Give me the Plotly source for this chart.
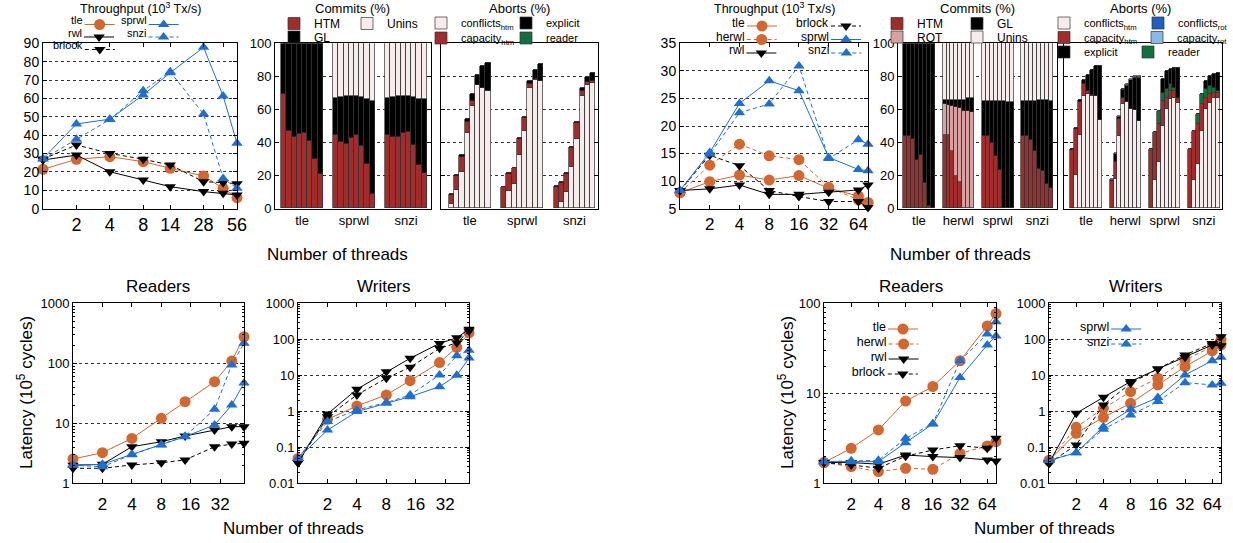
import math
import plotly.graph_objects as go

W, H = 1233, 543
FONT = "Liberation Sans, Arial, sans-serif"

# ---------------- data ----------------
THREADS_L = [1, 2, 4, 8, 14, 28, 42, 56]
THREADS_R = [1, 2, 4, 8, 16, 32, 64, 80]

# throughput (10^3 Tx/s) - left machine
tl_thr_tle = [21.4, 26.9, 28.3, 25.6, 22.0, 17.8, 11.1, 6.0]
tl_thr_rwl = [26.5, 29.2, 20.1, 15.6, 12.0, 9.3, 8.4, 7.5]
tl_thr_brlock = [27.0, 34.7, 30.1, 26.9, 23.8, 14.7, 14.2, 13.6]
tl_thr_sprwl = [27.2, 46.1, 48.7, 61.9, 74.0, 87.8, 61.3, 35.6]
tl_thr_snzi = [27.0, 37.8, 48.5, 64.2, 74.5, 51.5, 16.5, 11.1]

# throughput - right machine
tr_thr_tle = [7.9, 9.9, 11.1, 10.2, 11.0, 8.7, 7.3, 6.1]
tr_thr_herwl = [7.9, 12.9, 16.7, 14.6, 13.9, 8.9, 6.6, 6.1]
tr_thr_rwl = [8.3, 8.6, 9.3, 7.6, 7.6, 8.0, 8.4, 9.3]
tr_thr_brlock = [8.3, 14.7, 12.8, 8.3, 7.2, 6.3, 6.3, 5.2]
tr_thr_sprwl = [8.3, 15.2, 24.1, 28.2, 26.4, 14.3, 12.1, 11.9]
tr_thr_snzi = [8.3, 14.9, 22.4, 24.0, 30.9, 14.1, 17.5, 16.7]

# latency (10^5 cycles) - left machine
bl_rd_tle = [2.54, 3.24, 5.6, 12.1, 22.9, 49.3, 109, 277]
bl_rd_rwl = [2.0, 2.07, 4.07, 4.93, 6.15, 7.73, 8.78, 8.8]
bl_rd_brlock = [1.78, 1.78, 2.02, 2.2, 2.45, 4.07, 4.5, 4.64]
bl_rd_sprwl = [2.02, 2.07, 3.04, 4.35, 5.98, 9.4, 20.2, 47]
bl_rd_snzi = [2.0, 1.89, 3.0, 4.4, 6.1, 17.1, 94, 215]

bl_wr_tle = [0.049, 0.6, 1.4, 2.85, 7.1, 22.5, 60, 150]
bl_wr_rwl = [0.037, 0.84, 4.1, 12.6, 29.6, 77, 110, 190]
bl_wr_brlock = [0.037, 0.71, 2.85, 8.3, 16.7, 56, 80, 170]
bl_wr_sprwl = [0.049, 0.3, 0.98, 1.67, 2.55, 4.84, 10, 30]
bl_wr_snzi = [0.049, 0.52, 1.09, 1.75, 2.85, 10.2, 35, 50]

# latency - right machine
br_rd_tle = [1.70, 2.45, 3.92, 8.2, 11.9, 23, 56, 77]
br_rd_herwl = [1.7, 1.53, 1.35, 1.47, 1.43, 2.15, 2.6, 2.9]
br_rd_rwl = [1.7, 1.7, 1.63, 2.06, 1.98, 1.93, 1.82, 1.77]
br_rd_brlock = [1.7, 1.6, 1.47, 2.0, 2.34, 2.62, 2.45, 3.16]
br_rd_sprwl = [1.74, 1.74, 1.74, 2.83, 4.56, 15, 34.4, 43.3]
br_rd_snzi = [1.74, 1.78, 1.8, 3.16, 4.6, 23, 45.6, 62.5]

br_wr_tle = [0.043, 0.245, 0.68, 1.67, 5.4, 17.4, 47.4, 69.7]
br_wr_herwl = [0.043, 0.36, 1.21, 3.5, 8.3, 26.7, 62.5, 100]
br_wr_rwl = [0.036, 0.88, 2.45, 6.7, 15, 31.6, 70, 66]
br_wr_brlock = [0.036, 0.116, 1.5, 6.0, 15, 36.7, 77, 118]
br_wr_sprwl = [0.043, 0.071, 0.375, 1.14, 2.4, 10.2, 25.5, 31.6]
br_wr_snzi = [0.043, 0.071, 0.316, 0.79, 1.86, 6.25, 5.4, 6.0]

# commits (%) - left machine, 8 thread counts per group
TL_GROUPS = ["tle", "sprwl", "snzi"]
tl_com_htm = {"tle": [69, 47, 43, 45, 45.5, 41, 30, 20.5],
              "sprwl": [44.5, 40, 39, 42.5, 44.5, 37.5, 27, 9],
              "snzi": [44.5, 43, 43, 45.5, 46, 38.5, 26, 21.5]}
tl_com_gl = {"tle": [31, 53, 57, 55, 54.5, 59, 70, 79.5],
             "sprwl": [22.5, 27.5, 29, 25.5, 23.5, 30, 39, 56],
             "snzi": [22.5, 24.5, 25, 22.5, 22, 29, 40, 44.5]}
tl_com_unins = {"tle": [0, 0, 0, 0, 0, 0, 0, 0],
                "sprwl": [33, 32.5, 32, 32, 32, 32.5, 34, 35],
                "snzi": [33, 32.5, 32, 32, 32, 32.5, 34, 34]}

# aborts (%) - left machine
tl_ab_conf = {"tle": [2.4, 11.1, 21.8, 45.7, 61.8, 74.7, 72.7, 70.9],
              "sprwl": [0, 10.5, 14.7, 32.3, 47.1, 72.5, 77.4, 77],
              "snzi": [0, 3.6, 9.7, 24.8, 42, 67.7, 74.7, 76]}
tl_ab_cap = {"tle": [5.7, 8.5, 9.1, 6.4, 3, 0, 0, 0],
             "sprwl": [13.1, 10.3, 9.5, 9.9, 7.4, 2.9, 1, 0],
             "snzi": [13.1, 11.8, 11.1, 11.8, 9.5, 3.2, 1.7, 1]}
tl_ab_expl = {"tle": [0.6, 0.4, 1.4, 2, 4.5, 6.1, 13.2, 17.2],
              "sprwl": [0, 0.4, 0.4, 0.6, 0.7, 1.4, 5.4, 10.1],
              "snzi": [0.3, 0.4, 0.4, 0.4, 0.6, 2, 3, 4.8]}
tl_ab_reader = {"tle": [0] * 8, "sprwl": [0] * 8, "snzi": [0] * 8}

# commits (%) - right machine
TR_GROUPS = ["tle", "herwl", "sprwl", "snzi"]
tr_com_htm = {"tle": [44, 44, 42, 29, 32.5, 15.5, 1.5, 0],
              "herwl": [44.5, 44.5, 35, 19.5, 15.8, 0.5, 0, 0],
              "sprwl": [44, 43.5, 39.5, 31.5, 23.5, 0, 0, 0],
              "snzi": [44, 43.5, 41.5, 34.5, 24, 22.5, 15, 12.5]}
tr_com_rot = {"tle": [0] * 8,
              "herwl": [18.5, 18, 27, 42, 44.8, 58.5, 59, 58],
              "sprwl": [0] * 8,
              "snzi": [0] * 8}
tr_com_gl = {"tle": [56, 56, 58, 71, 67.5, 84.5, 98.5, 100],
             "herwl": [2.5, 3, 3.5, 4, 4.9, 6.5, 8, 8.7],
             "sprwl": [21, 21.5, 25.5, 33.5, 41.5, 65, 64.5, 64.5],
             "snzi": [21, 21.5, 23.5, 30.5, 41.5, 43, 50.5, 52.5]}
tr_com_unins = {"tle": [0] * 8,
                "herwl": [34.5, 34.5, 34.5, 34.5, 34.5, 34.5, 33, 33.3],
                "sprwl": [35, 35, 35, 35, 35, 35, 35.5, 35.5],
                "snzi": [35, 35, 35, 35, 34.5, 34.5, 34.5, 35]}

# aborts (%) - right machine
tr_ab_conf = {"tle": [0, 20, 44.6, 67.7, 69.3, 67.7, 67.7, 53.7],
              "herwl": [0, 17.8, 44, 63.2, 64.2, 59.8, 59.2, 53.1],
              "sprwl": [0, 17, 28, 50, 60, 66, 67, 64],
              "snzi": [0, 17, 27, 47, 60, 64, 67, 67]}
tr_ab_cap = {"tle": [35.4, 28, 20, 7.7, 1.6, 0, 0, 0],
             "herwl": [16.4, 10.5, 10.1, 3.7, 0, 0, 0, 0],
             "sprwl": [36, 29, 23, 15, 7, 5, 4, 2],
             "snzi": [36, 30, 24, 16, 7, 5, 3, 3]}
tr_ab_reader = {"tle": [0, 0, 0, 0, 0, 0.8, 0.3, 0],
                "herwl": [0] * 8,
                "sprwl": [0, 0, 8, 4.5, 5, 4, 2, 1],
                "snzi": [0, 0, 6, 6, 5, 5, 3, 1]}
tr_ab_expl = {"tle": [0.6, 0.7, 0.7, 2.4, 9.9, 15.3, 17.8, 32.2],
              "herwl": [0.7, 4.5, 1, 4.8, 10, 17.6, 19.6, 26],
              "sprwl": [0, 0, 0, 9, 11, 9, 12, 18],
              "snzi": [0, 0, 0, 0, 5, 6, 8, 11]}
tr_ab_crot = {"tle": [0] * 8,
              "herwl": [0.3, 0.3, 0.3, 0.3, 0.4, 0.5, 0.5, 0.4],
              "sprwl": [0] * 8, "snzi": [0] * 8}
tr_ab_caprot = {"tle": [0] * 8,
                "herwl": [0.4, 0.4, 0.3, 0.3, 0.5, 0.6, 0.6, 0.4],
                "sprwl": [0] * 8, "snzi": [0] * 8}

# ---------------- styles ----------------
ORANGE = "#d2672f"
BLUE = "#1f6fd1"
RED = "#a02c2c"
ROSE = "#d8a0a0"
PALE = "#f7ecec"
GREEN = "#12703c"
RBLUE = "#1f5fbf"
LBLUE = "#8ab8e8"
DASH = "4px,3px"
STY = {
    "tle": (ORANGE, "solid", "circle", 11),
    "herwl": (ORANGE, DASH, "circle", 11),
    "rwl": ("black", "solid", "triangle-down", 10),
    "brlock": ("black", DASH, "triangle-down", 10),
    "sprwl": (BLUE, "solid", "triangle-up", 10),
    "snzi": (BLUE, DASH, "triangle-up", 10),
}


def fx(px):
    return px / W


def fy(py):
    return 1 - py / H


layout = dict(width=W, height=H, margin=dict(l=0, r=0, t=0, b=0, autoexpand=False),
              paper_bgcolor="white", plot_bgcolor="white",
              font=dict(family=FONT, size=13, color="black"),
              barmode="stack", bargap=0, showlegend=True)
annotations = []
traces = []
legend_count = [0]
IND = -11


def next_legend_id():
    legend_count[0] += 1
    n = legend_count[0]
    return "legend" if n == 1 else "legend%d" % n


def line_legend(label, text_right, y_px, size):
    """gnuplot-style key entry: label text, then the line/marker sample."""
    lid = next_legend_id()
    layout[lid] = dict(x=fx(text_right + 53 + IND), xanchor="right", y=fy(y_px), yanchor="middle",
                       title=dict(text=label, side="left", font=dict(size=size)),
                       bgcolor="rgba(0,0,0,0)", borderwidth=0, itemwidth=30, indentation=IND,
                       font=dict(size=10), tracegroupgap=0)
    return lid


def box_legend(text_left, y_px, size, right_edge=False):
    lid = next_legend_id()
    if right_edge:
        pos = dict(x=1.0, xanchor="right")
    else:
        pos = dict(x=fx(text_left - 38), xanchor="left")
    layout[lid] = dict(y=fy(y_px), yanchor="middle",
                       bgcolor="rgba(0,0,0,0)", borderwidth=0, itemwidth=30,
                       font=dict(size=size), tracegroupgap=0, **pos)
    return lid


def ann(text, x_px, y_px, size, xanchor="center", angle=0):
    annotations.append(dict(text=text, x=fx(x_px), y=fy(y_px), xref="paper", yref="paper",
                            xanchor=xanchor, yanchor="middle", showarrow=False,
                            textangle=angle, font=dict(size=size, family=FONT, color="black")))


BASE = dict(showline=True, linecolor="black", linewidth=1, mirror="ticks", ticks="inside",
            ticklen=4, tickcolor="black", zeroline=False, showgrid=False)
GRID = dict(showgrid=True, gridcolor="#333", griddash="dot", gridwidth=1)


def log_minor(lo, hi):
    vals = []
    for d in range(lo, hi):
        for k in range(2, 10):
            vals.append(k * 10 ** d)
    return dict(ticks="inside", ticklen=2, tickcolor="black", showgrid=False, tickvals=vals)


def set_axes(i, xpx, ypx, xkw, ykw):
    xn = "xaxis" if i == 1 else "xaxis%d" % i
    yn = "yaxis" if i == 1 else "yaxis%d" % i
    xa = dict(BASE)
    xa.update(domain=[fx(xpx[0]), fx(xpx[1])], anchor="y" if i == 1 else "y%d" % i)
    xa.update(xkw)
    ya = dict(BASE)
    ya.update(domain=[fy(ypx[1]), fy(ypx[0])], anchor="x" if i == 1 else "x%d" % i)
    ya.update(ykw)
    layout[xn] = xa
    layout[yn] = ya


def refs(i):
    return ("x" if i == 1 else "x%d" % i), ("y" if i == 1 else "y%d" % i)


def add_line(i, name, x, y, legend=None):
    c, dash, sym, sz = STY[name]
    xr, yr = refs(i)
    kw = dict(x=x, y=y, xaxis=xr, yaxis=yr, mode="lines+markers",
              name=name if legend is None else "",
              line=dict(color=c, width=1, dash=dash),
              marker=dict(symbol=sym, size=sz, color=c, line=dict(width=0)),
              cliponaxis=False, showlegend=legend is not None, hoverinfo="skip")
    if legend is not None:
        kw["legend"] = legend
    traces.append(go.Scatter(**kw))


BW = 0.1


def add_bars(i, groups, data, color, label, legend=None):
    xr, yr = refs(i)
    xs, ys = [], []
    for g, grp in enumerate(groups):
        for k, v in enumerate(data[grp]):
            xs.append(g + (k - 3.5) * BW)
            ys.append(v)
    kw = dict(x=xs, y=ys, xaxis=xr, yaxis=yr, width=BW, name=label,
              marker=dict(color=color, line=dict(color="#333", width=0.7)),
              showlegend=legend is not None, hoverinfo="skip")
    if legend is not None:
        kw["legend"] = legend
    traces.append(go.Bar(**kw))


TOP = (43.3, 208.7)
BOT = (303.3, 483.3)

# ---- panel 1: TL throughput
TL_TICKS = [2, 4, 8, 14, 28, 56]
set_axes(1, (43, 237), TOP,
         dict(type="log", range=[0, math.log10(56)], tickvals=TL_TICKS,
              ticktext=[str(t) for t in TL_TICKS],
              minor=dict(ticks="inside", ticklen=4, tickcolor="black", tickvals=[42], showgrid=False),
              tickfont=dict(size=18), ticklabelstandoff=0),
         dict(range=[0, 90], tickvals=list(range(0, 91, 10)), tickfont=dict(size=14), **GRID))
tl_series = [("tle", tl_thr_tle, 83, 24.5), ("rwl", tl_thr_rwl, 83, 37),
             ("brlock", tl_thr_brlock, 83, 49.5), ("sprwl", tl_thr_sprwl, 147, 24.5),
             ("snzi", tl_thr_snzi, 147, 37)]
for name, vals, tr, yy in tl_series:
    add_line(1, name, THREADS_L, vals, legend=line_legend(name, tr, yy, 11))
ann("Throughput (10<sup>3</sup> Tx/s)", 140, 8, 12.5)


# ---- panel 2: TL commits
def bar_x(n, r0, r1, labels):
    return dict(range=[r0, r1], tickvals=list(range(n)), ticktext=labels, ticks="", mirror=True,
                tickfont=dict(size=13), ticklabelstandoff=0)


bar_y = dict(range=[0, 100], tickvals=[0, 20, 40, 60, 80, 100], tickfont=dict(size=13), **GRID)
set_axes(2, (275, 431), TOP, bar_x(3, -0.52, 2.48, TL_GROUPS), bar_y)
add_bars(2, TL_GROUPS, tl_com_htm, RED, "HTM", box_legend(312, 23.5, 12))
add_bars(2, TL_GROUPS, tl_com_gl, "black", "GL", box_legend(312, 37, 12))
add_bars(2, TL_GROUPS, tl_com_unins, PALE, "Unins", box_legend(385, 23.5, 12))
ann("Commits (%)", 352, 9, 13)

# ---- panel 3: TL aborts
set_axes(3, (441, 598), TOP, bar_x(3, -0.55, 2.45, TL_GROUPS), dict(bar_y, showticklabels=False))
add_bars(3, TL_GROUPS, tl_ab_conf, PALE, "conflicts<sub>htm</sub>", box_legend(459, 23, 11))
add_bars(3, TL_GROUPS, tl_ab_cap, RED, "capacity<sub>htm</sub>", box_legend(459, 38, 11))
add_bars(3, TL_GROUPS, tl_ab_expl, "black", "explicit", box_legend(544, 23, 11))
add_bars(3, TL_GROUPS, tl_ab_reader, GREEN, "reader", box_legend(544, 38, 11))
ann("Aborts (%)", 519, 9, 13)

# ---- panel 4: TR throughput
set_axes(4, (680, 868), TOP,
         dict(type="log", range=[0, math.log10(80)], tickvals=[2, 4, 8, 16, 32, 64],
              ticktext=["2", "4", "8", "16", "32", "64"], tickfont=dict(size=17), ticklabelstandoff=0),
         dict(range=[5, 35], tickvals=list(range(5, 36, 5)), tickfont=dict(size=14), **GRID))
tr_series = [("tle", tr_thr_tle, 745, 26), ("herwl", tr_thr_herwl, 745, 39.5),
             ("rwl", tr_thr_rwl, 745, 53), ("brlock", tr_thr_brlock, 830, 26),
             ("sprwl", tr_thr_sprwl, 830, 39.5), ("snzi", tr_thr_snzi, 830, 53)]
for name, vals, tr, yy in tr_series:
    add_line(4, name, THREADS_R, vals, legend=line_legend(name, tr, yy, 12))
ann("Throughput (10<sup>3</sup> Tx/s)", 774, 8, 12.5)

# ---- panel 5: TR commits
set_axes(5, (898, 1057), TOP, bar_x(4, -0.53, 3.5, TR_GROUPS), bar_y)
add_bars(5, TR_GROUPS, tr_com_htm, RED, "HTM", box_legend(915, 23.5, 12))
add_bars(5, TR_GROUPS, tr_com_rot, ROSE, "ROT", box_legend(915, 37, 12))
add_bars(5, TR_GROUPS, tr_com_gl, "black", "GL", box_legend(995, 23.5, 12))
add_bars(5, TR_GROUPS, tr_com_unins, PALE, "Unins", box_legend(995, 37, 12))
ann("Commits (%)", 977, 9, 13)

# ---- panel 6: TR aborts
set_axes(6, (1064, 1222), TOP, bar_x(4, -0.56, 3.46, TR_GROUPS), dict(bar_y, showticklabels=False))
add_bars(6, TR_GROUPS, tr_ab_conf, PALE, "conflicts<sub>htm</sub>", box_legend(1082, 23, 11))
add_bars(6, TR_GROUPS, tr_ab_cap, RED, "capacity<sub>htm</sub>", box_legend(1082, 37.5, 11))
add_bars(6, TR_GROUPS, tr_ab_reader, GREEN, "reader", box_legend(1166, 52, 11))
add_bars(6, TR_GROUPS, tr_ab_expl, "black", "explicit", box_legend(1082, 52, 11))
add_bars(6, TR_GROUPS, tr_ab_crot, RBLUE, "conflicts<sub>rot</sub>",
         box_legend(1166, 23, 11, right_edge=True))
add_bars(6, TR_GROUPS, tr_ab_caprot, LBLUE, "capacity<sub>rot</sub>",
         box_legend(1166, 37.5, 11, right_edge=True))
ann("Aborts (%)", 1140, 9, 13)

ann("Number of threads", 337, 254, 17)
ann("Number of threads", 960, 254, 17)


# ---- bottom panels
def log_y(lo, hi):
    vals = [10 ** d for d in range(lo, hi + 1)]
    txt = ["%g" % v for v in vals]
    return dict(type="log", range=[lo, hi], tickvals=vals, ticktext=txt,
                tickfont=dict(size=13), minor=log_minor(lo, hi), **GRID)


def log_x(maxv, ticks):
    return dict(type="log", range=[0, math.log10(maxv)], tickvals=ticks,
                ticktext=[str(t) for t in ticks], tickfont=dict(size=17), ticklabelstandoff=5)


set_axes(7, (73, 244), BOT, log_x(56, [2, 4, 8, 16, 32]), log_y(0, 3))
set_axes(8, (298, 469), BOT, log_x(56, [2, 4, 8, 16, 32]), log_y(-2, 3))
set_axes(9, (824, 996), BOT, log_x(80, [2, 4, 8, 16, 32, 64]), log_y(0, 2))
set_axes(10, (1049, 1221), BOT, log_x(80, [2, 4, 8, 16, 32, 64]), log_y(-2, 3))

for name, vals in [("tle", bl_rd_tle), ("rwl", bl_rd_rwl), ("brlock", bl_rd_brlock),
                   ("sprwl", bl_rd_sprwl), ("snzi", bl_rd_snzi)]:
    add_line(7, name, THREADS_L, vals)
for name, vals in [("tle", bl_wr_tle), ("rwl", bl_wr_rwl), ("brlock", bl_wr_brlock),
                   ("sprwl", bl_wr_sprwl), ("snzi", bl_wr_snzi)]:
    add_line(8, name, THREADS_L, vals)

br_rd = [("tle", br_rd_tle, 329), ("herwl", br_rd_herwl, 344), ("rwl", br_rd_rwl, 359),
         ("brlock", br_rd_brlock, 374), ("sprwl", br_rd_sprwl, None), ("snzi", br_rd_snzi, None)]
for name, vals, yy in br_rd:
    if yy is None:
        add_line(9, name, THREADS_R, vals)
    else:
        add_line(9, name, THREADS_R, vals, legend=line_legend(name, 886.7, yy, 12.5))
br_wr = [("tle", br_wr_tle, None), ("herwl", br_wr_herwl, None), ("rwl", br_wr_rwl, None),
         ("brlock", br_wr_brlock, None), ("sprwl", br_wr_sprwl, 329), ("snzi", br_wr_snzi, 344)]
for name, vals, yy in br_wr:
    if yy is None:
        add_line(10, name, THREADS_R, vals)
    else:
        add_line(10, name, THREADS_R, vals, legend=line_legend(name, 1110, yy, 12.5))

ann("Readers", 158, 286, 17)
ann("Writers", 384, 286, 17)
ann("Readers", 911, 286, 17)
ann("Writers", 1136, 286, 17)
ann("Latency (10<sup>5</sup> cycles)", 25, 393, 17, angle=-90)
ann("Latency (10<sup>5</sup> cycles)", 786, 393, 17, angle=-90)
ann("Number of threads", 293, 528, 17)
ann("Number of threads", 1044, 528, 17)

layout["annotations"] = annotations
fig = go.Figure(data=traces, layout=layout)
fig.write_html("out.html", config={"displayModeBar": False},
               post_script="document.body.style.margin='0px';document.body.style.overflow='hidden';")
